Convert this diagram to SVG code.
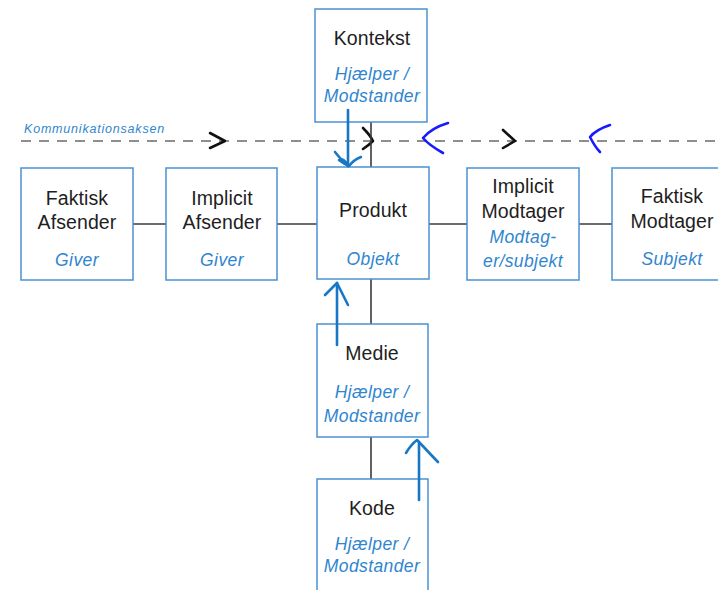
<svg xmlns="http://www.w3.org/2000/svg" width="718" height="590" viewBox="0 0 718 590">
  <style>
    .box { fill: #ffffff; stroke: #4a92d4; stroke-width: 1.5; }
    .link { stroke: #3a3a3a; stroke-width: 1.6; fill: none; }
    .axis { stroke: #6a6a6a; stroke-width: 1.6; stroke-dasharray: 10 8; fill: none; }
    .title { font-family: "Liberation Sans", Arial, sans-serif; font-size: 19.5px; fill: #1e1e1e; text-anchor: middle; letter-spacing: 0.1px; }
    .role { font-family: "Liberation Sans", Arial, sans-serif; font-size: 17.5px; font-style: italic; fill: #2f86cf; text-anchor: middle; letter-spacing: 0.4px; }
    .axislabel { font-family: "Liberation Sans", Arial, sans-serif; font-size: 12.5px; font-style: italic; fill: #2f86cf; letter-spacing: 0.8px; }
    .ink { stroke: #1877c4; stroke-width: 2.6; fill: none; stroke-linecap: round; stroke-linejoin: round; }
    .pen { stroke: #1a1aff; stroke-width: 2.6; fill: none; stroke-linecap: round; stroke-linejoin: round; }
    .chev { stroke: #111111; stroke-width: 2.6; fill: none; stroke-linecap: round; stroke-linejoin: round; }
  </style>

  <!-- communication axis -->
  <g id="axis">
    <text class="axislabel" x="24" y="133">Kommunikationsaksen</text>
    <line class="axis" x1="21" y1="141" x2="718" y2="141"/>
    <path class="chev" d="M210,133 L225,141 L210,148"/>
    <path class="chev" d="M363,128 C367,132 371,137 373,141 C370,144 366,147 363,149"/>
    <path class="chev" d="M503,130 L515,141 L503,148"/>
    <path class="pen" d="M448,123 C438,126 428,132 423,138 C428,144 436,149 443,153"/>
    <path class="pen" d="M610,125 C601,128 594,132 590,137 C593,143 596,148 600,152"/>
  </g>

  <!-- plain connectors between the boxes -->
  <g id="connectors">
    <line class="link" x1="133" y1="224" x2="166" y2="224"/>
    <line class="link" x1="277" y1="224" x2="317" y2="224"/>
    <line class="link" x1="429" y1="224" x2="467" y2="224"/>
    <line class="link" x1="579" y1="224" x2="612" y2="224"/>
    <line class="link" x1="371" y1="122" x2="371" y2="167"/>
    <line class="link" x1="371" y1="279" x2="371" y2="324"/>
    <line class="link" x1="371" y1="437" x2="371" y2="479"/>
  </g>

  <g id="faktisk-afsender">
    <rect class="box" x="21" y="168" width="112" height="112"/>
    <text class="title" x="77" y="205">Faktisk</text>
    <text class="title" x="77" y="229">Afsender</text>
    <text class="role" x="77" y="266">Giver</text>
  </g>

  <g id="implicit-afsender">
    <rect class="box" x="166" y="168" width="111" height="112"/>
    <text class="title" x="222" y="205">Implicit</text>
    <text class="title" x="222" y="229">Afsender</text>
    <text class="role" x="222" y="266">Giver</text>
  </g>

  <g id="kontekst">
    <rect class="box" x="315" y="9" width="112" height="113"/>
    <text class="title" x="372" y="45">Kontekst</text>
    <text class="role" x="372" y="80">Hjælper /</text>
    <text class="role" x="372" y="102">Modstander</text>
  </g>

  <g id="produkt">
    <rect class="box" x="317" y="167" width="112" height="112"/>
    <text class="title" x="373" y="217">Produkt</text>
    <text class="role" x="373" y="265">Objekt</text>
  </g>

  <g id="implicit-modtager">
    <rect class="box" x="467" y="168" width="112" height="112"/>
    <text class="title" x="523" y="193">Implicit</text>
    <text class="title" x="523" y="218">Modtager</text>
    <text class="role" x="523" y="243">Modtag-</text>
    <text class="role" x="523" y="267">er/subjekt</text>
  </g>

  <g id="faktisk-modtager">
    <rect class="box" x="612" y="168" width="120" height="112"/>
    <text class="title" x="672" y="203">Faktisk</text>
    <text class="title" x="672" y="228">Modtager</text>
    <text class="role" x="672" y="265">Subjekt</text>
  </g>

  <g id="medie">
    <rect class="box" x="317" y="324" width="111" height="113"/>
    <text class="title" x="372" y="360">Medie</text>
    <text class="role" x="372" y="398">Hjælper /</text>
    <text class="role" x="372" y="422">Modstander</text>
  </g>

  <g id="kode">
    <rect class="box" x="317" y="479" width="111" height="120"/>
    <text class="title" x="372" y="515">Kode</text>
    <text class="role" x="372" y="550">Hjælper /</text>
    <text class="role" x="372" y="572">Modstander</text>
  </g>

  <!-- hand-drawn influence arrows -->
  <g id="annotations">
    <path class="ink" d="M348,110 L348,166"/>
    <path class="ink" d="M335,152 C339,157 343,162 348,166 C346,161 342,158 339,160 C343,163 346,165 349,166 C352,162 356,159 361,157"/>
    <path class="ink" d="M337,345 L337,283"/>
    <path class="ink" d="M325,295 L337,283 L348,305"/>
    <path class="ink" d="M419,500 L419,442"/>
    <path class="ink" d="M406,453 C409,448 413,443 417,440 C424,447 431,455 438,462"/>
  </g>
</svg>
